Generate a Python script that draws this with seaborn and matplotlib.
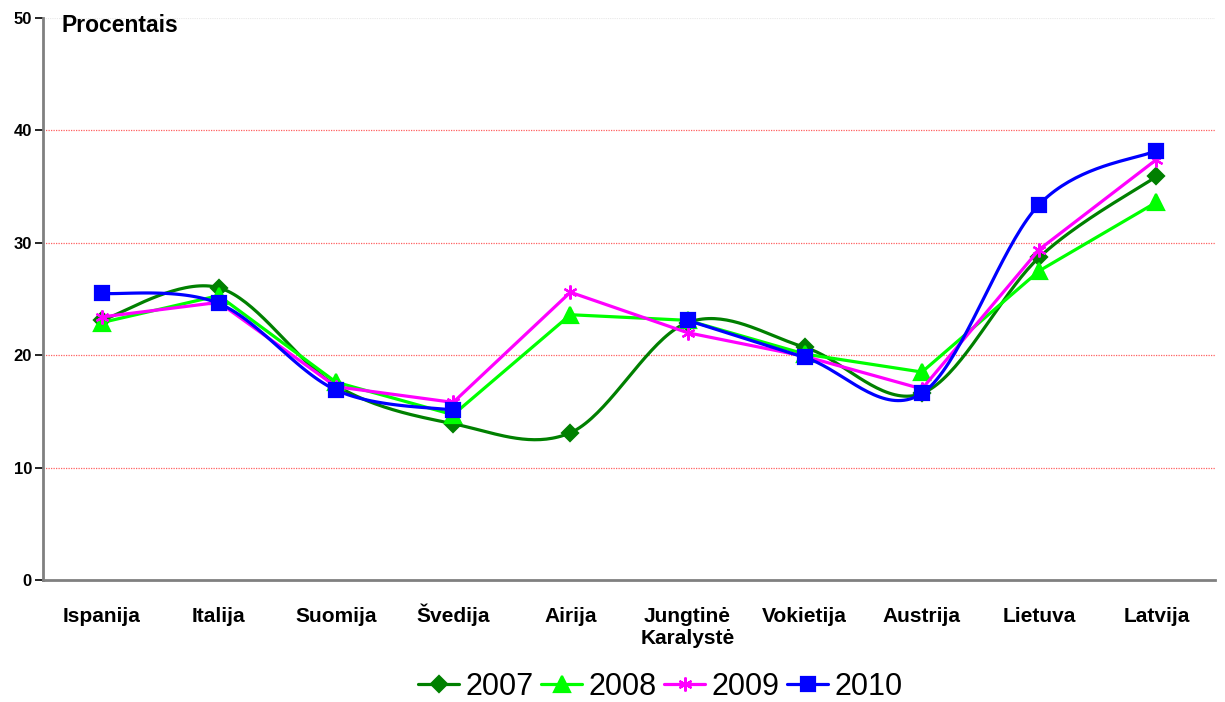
import numpy as np
import pandas as pd
import matplotlib
matplotlib.use("Agg")
import matplotlib.pyplot as plt
import matplotlib.transforms as mtransforms
from matplotlib.lines import Line2D
import seaborn as sns

# Countries and yearly shares (%)
countries = ["Ispanija", "Italija", "Suomija", "Švedija", "Airija",
             "Jungtinė\nKaralystė", "Vokietija", "Austrija", "Lietuva", "Latvija"]
v2007 = [23.1, 26.0, 17.3, 13.9, 13.1, 22.9, 20.7, 16.6, 28.7, 35.9]
v2008 = [22.9, 25.3, 17.6, 14.7, 23.6, 23.1, 20.1, 18.5, 27.5, 33.6]
v2009 = [23.4, 24.7, 17.2, 15.8, 25.6, 22.0, 19.9, 17.0, 29.4, 37.4]
v2010 = [25.5, 24.6, 16.9, 15.1, np.nan, 23.1, 19.8, 16.6, 33.4, 38.2]
years = ["2007", "2008", "2009", "2010"]
y_ticks = [0, 10, 20, 30, 40, 50]

series = {"2007": v2007, "2008": v2008, "2009": v2009, "2010": v2010}
colors = {"2007": "#008000", "2008": "#00FF00", "2009": "#FF00FF", "2010": "#0000FF"}
markers = {"2007": "D", "2008": "^", "2009": (6, 2, 0), "2010": "s"}
msizes = {"2007": 8, "2008": 11, "2009": 10, "2010": 10}
smooth = {"2007": True, "2008": False, "2009": False, "2010": True}

sns.set_theme(style="white")
plt.rcParams["font.family"] = ["Liberation Sans", "DejaVu Sans"]
plt.rcParams["text.color"] = "black"
plt.rcParams["xtick.color"] = "black"
plt.rcParams["ytick.color"] = "black"

fig = plt.figure(figsize=(12.25, 7.02), dpi=100)
ax = fig.add_axes([0.0351, 0.1738, 0.9567, 0.8006])


def bezier_path(xs, ys, n=40):
    """Smooth curve through the points (cardinal Bezier, Excel-like)."""
    px, py = [], []
    m = len(xs)
    for i in range(m - 1):
        x0, y0 = (xs[i - 1], ys[i - 1]) if i > 0 else (xs[i], ys[i])
        x1, y1 = xs[i], ys[i]
        x2, y2 = xs[i + 1], ys[i + 1]
        x3, y3 = (xs[i + 2], ys[i + 2]) if i + 2 < m else (xs[i + 1], ys[i + 1])
        c1x, c1y = x1 + (x2 - x0) / 6, y1 + (y2 - y0) / 6
        c2x, c2y = x2 - (x3 - x1) / 6, y2 - (y3 - y1) / 6
        t = np.linspace(0, 1, n)
        bx = (1 - t) ** 3 * x1 + 3 * (1 - t) ** 2 * t * c1x + 3 * (1 - t) * t ** 2 * c2x + t ** 3 * x2
        by = (1 - t) ** 3 * y1 + 3 * (1 - t) ** 2 * t * c1y + 3 * (1 - t) * t ** 2 * c2y + t ** 3 * y2
        px.extend(bx if i == 0 else bx[1:])
        py.extend(by if i == 0 else by[1:])
    return np.array(px), np.array(py)


def segments(vals):
    """Split a series into runs of consecutive non-missing values."""
    runs, cur = [], []
    for i, v in enumerate(vals):
        if np.isnan(v):
            if cur:
                runs.append(cur)
            cur = []
        else:
            cur.append(i)
    if cur:
        runs.append(cur)
    return runs


for z, yr in enumerate(years):
    vals = np.array(series[yr], dtype=float)
    for run in segments(vals):
        xs = np.array(run, dtype=float)
        ys = vals[run]
        if smooth[yr] and len(run) > 2:
            cx, cy = bezier_path(xs, ys)
        else:
            cx, cy = xs, ys
        df = pd.DataFrame({"x": cx, "y": cy})
        sns.lineplot(data=df, x="x", y="y", ax=ax, color=colors[yr], lw=2.3,
                     sort=False, estimator=None, zorder=3 + z)
    dfm = pd.DataFrame({"x": np.arange(len(vals)), "y": vals}).dropna()
    ax.plot(dfm["x"], dfm["y"], ls="none", marker=markers[yr], ms=msizes[yr],
            color=colors[yr], mec=colors[yr], mew=1.6, zorder=3 + z)

# Axes and grid
ax.set_xlim(-0.5, len(countries) - 0.5)
ax.set_ylim(0, 50)
ax.set_yticks(y_ticks)
ax.set_yticklabels([str(t) for t in y_ticks], fontsize=12, fontweight="bold")
ax.set_xticks(range(len(countries)))
ax.set_xticklabels(countries, fontsize=15, fontweight="bold", va="baseline",
                   linespacing=1.15)
ax.set_xticks(np.arange(-0.5, len(countries), 1.0), minor=True)
ax.tick_params(axis="x", which="major", length=0, pad=30)
ax.tick_params(axis="x", which="minor", length=6, width=1.2, color="black", direction="out")
ax.tick_params(axis="y", which="major", length=6, width=1.2, color="black",
               direction="out", left=True, pad=2)
ax.set_xlabel("")
ax.set_ylabel("")

# two-line label: keep its first line on the common baseline
for lab in ax.get_xticklabels():
    nlines = lab.get_text().count("\n")
    if nlines:
        lab.set_transform(lab.get_transform() +
                          mtransforms.ScaledTranslation(0, -0.22 * nlines, fig.dpi_scale_trans))

for yv in [10, 20, 30, 40]:
    ax.axhline(yv, color="#FF6060", lw=0.9, ls=(0, (1, 1)), zorder=1)
ax.axhline(50, color="#E8E8E8", lw=0.8, ls=(0, (1, 1)), zorder=1)

for side in ["top", "right"]:
    ax.spines[side].set_visible(False)
for side in ["left", "bottom"]:
    ax.spines[side].set_color("#808080")
    ax.spines[side].set_linewidth(2)

ax.text(0.016, 49.3, "Procentais", fontsize=16.5, fontweight="bold",
        ha="left", va="center",
        transform=mtransforms.blended_transform_factory(ax.transAxes, ax.transData))

handles = [Line2D([0], [0], color=colors[yr], lw=2.3, marker=markers[yr],
                  ms=msizes[yr], mec=colors[yr], mew=1.6) for yr in years]
fig.legend(handles, years, loc="lower center", bbox_to_anchor=(0.539, -0.039),
           ncol=4, frameon=False, fontsize=22, handlelength=1.35,
           handletextpad=0.2, columnspacing=0.25)

fig.savefig("out.png", dpi=100, facecolor="white")
